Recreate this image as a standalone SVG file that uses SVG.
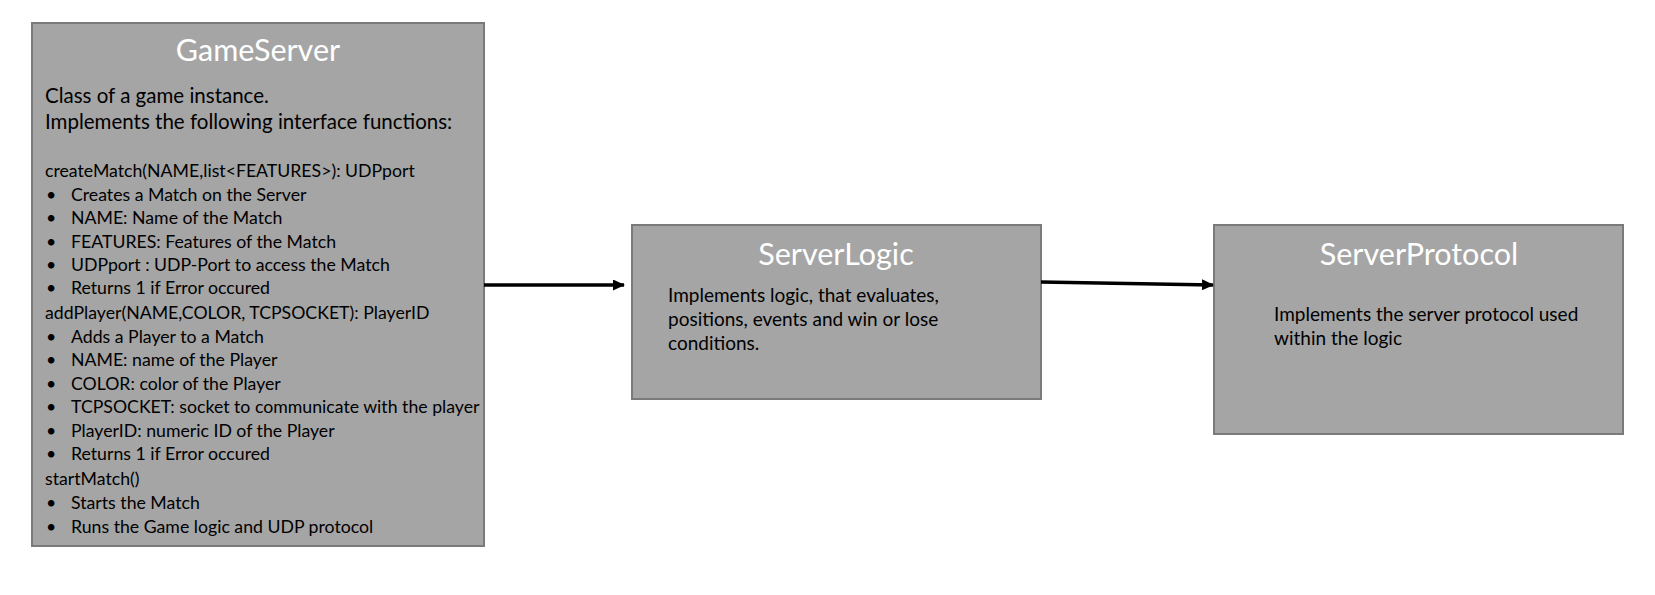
<svg xmlns="http://www.w3.org/2000/svg" width="1655" height="595" viewBox="0 0 1655 595">
<style>
.box{fill:#a5a5a5;stroke:#7a7a7a;stroke-width:2}
.title{font-family:Lato,"Open Sans",sans-serif;font-size:30.5px;fill:#ffffff;text-anchor:middle}
.t{font-family:Lato,"Open Sans",sans-serif;font-size:17.7px;fill:#000}
.b{font-family:Lato,"Open Sans",sans-serif;font-size:19px;fill:#000}
.big{font-family:Lato,"Open Sans",sans-serif;font-size:20.5px;fill:#000}
.conn{stroke:#000;stroke-width:3.5;fill:none}
</style>
<defs>
<marker id="arr" markerWidth="12" markerHeight="11" refX="11" refY="5.5" orient="auto" markerUnits="userSpaceOnUse">
<path d="M0,0 L12,5.5 L0,11 z" fill="#000"/>
</marker>
</defs>
<rect width="1655" height="595" fill="#fff"/>
<g id="GameServer">
<rect class="box" x="32" y="23" width="452" height="523"/>
<text class="title" x="258" y="61">GameServer</text>
<text class="big" x="45" y="103">Class of a game instance.</text>
<text class="big" x="45" y="129">Implements the following interface functions:</text>
<text class="t" x="45" y="177">createMatch(NAME,list&lt;FEATURES&gt;): UDPport</text>
<g class="t">
<text x="46" y="201">•</text><text x="71" y="201">Creates a Match on the Server</text>
<text x="46" y="224">•</text><text x="71" y="224">NAME: Name of the Match</text>
<text x="46" y="248">•</text><text x="71" y="248">FEATURES: Features of the Match</text>
<text x="46" y="271">•</text><text x="71" y="271">UDPport : UDP-Port to access the Match</text>
<text x="46" y="294">•</text><text x="71" y="294">Returns 1 if Error occured</text>
</g>
<text class="t" x="45" y="319">addPlayer(NAME,COLOR, TCPSOCKET): PlayerID</text>
<g class="t">
<text x="46" y="343">•</text><text x="71" y="343">Adds a Player to a Match</text>
<text x="46" y="366">•</text><text x="71" y="366">NAME: name of the Player</text>
<text x="46" y="390">•</text><text x="71" y="390">COLOR: color of the Player</text>
<text x="46" y="413">•</text><text x="71" y="413">TCPSOCKET: socket to communicate with the player</text>
<text x="46" y="437">•</text><text x="71" y="437">PlayerID: numeric ID of the Player</text>
<text x="46" y="460">•</text><text x="71" y="460">Returns 1 if Error occured</text>
</g>
<text class="t" x="45" y="485">startMatch()</text>
<g class="t">
<text x="46" y="509">•</text><text x="71" y="509">Starts the Match</text>
<text x="46" y="533">•</text><text x="71" y="533">Runs the Game logic and UDP protocol</text>
</g>
</g>
<g id="ServerLogic">
<rect class="box" x="632" y="225" width="409" height="174"/>
<text class="title" x="836" y="265">ServerLogic</text>
<text class="b" x="668" y="302">Implements logic, that evaluates,</text>
<text class="b" x="668" y="326">positions, events and win or lose</text>
<text class="b" x="668" y="350">conditions.</text>
</g>
<g id="ServerProtocol">
<rect class="box" x="1214" y="225" width="409" height="209"/>
<text class="title" x="1419" y="265">ServerProtocol</text>
<text class="b" x="1274" y="321">Implements the server protocol used</text>
<text class="b" x="1274" y="345">within the logic</text>
</g>
<g id="connectors">
<line class="conn" x1="484" y1="285" x2="624" y2="285" marker-end="url(#arr)"/>
<line class="conn" x1="1041" y1="282" x2="1213" y2="285" marker-end="url(#arr)"/>
</g>
</svg>
